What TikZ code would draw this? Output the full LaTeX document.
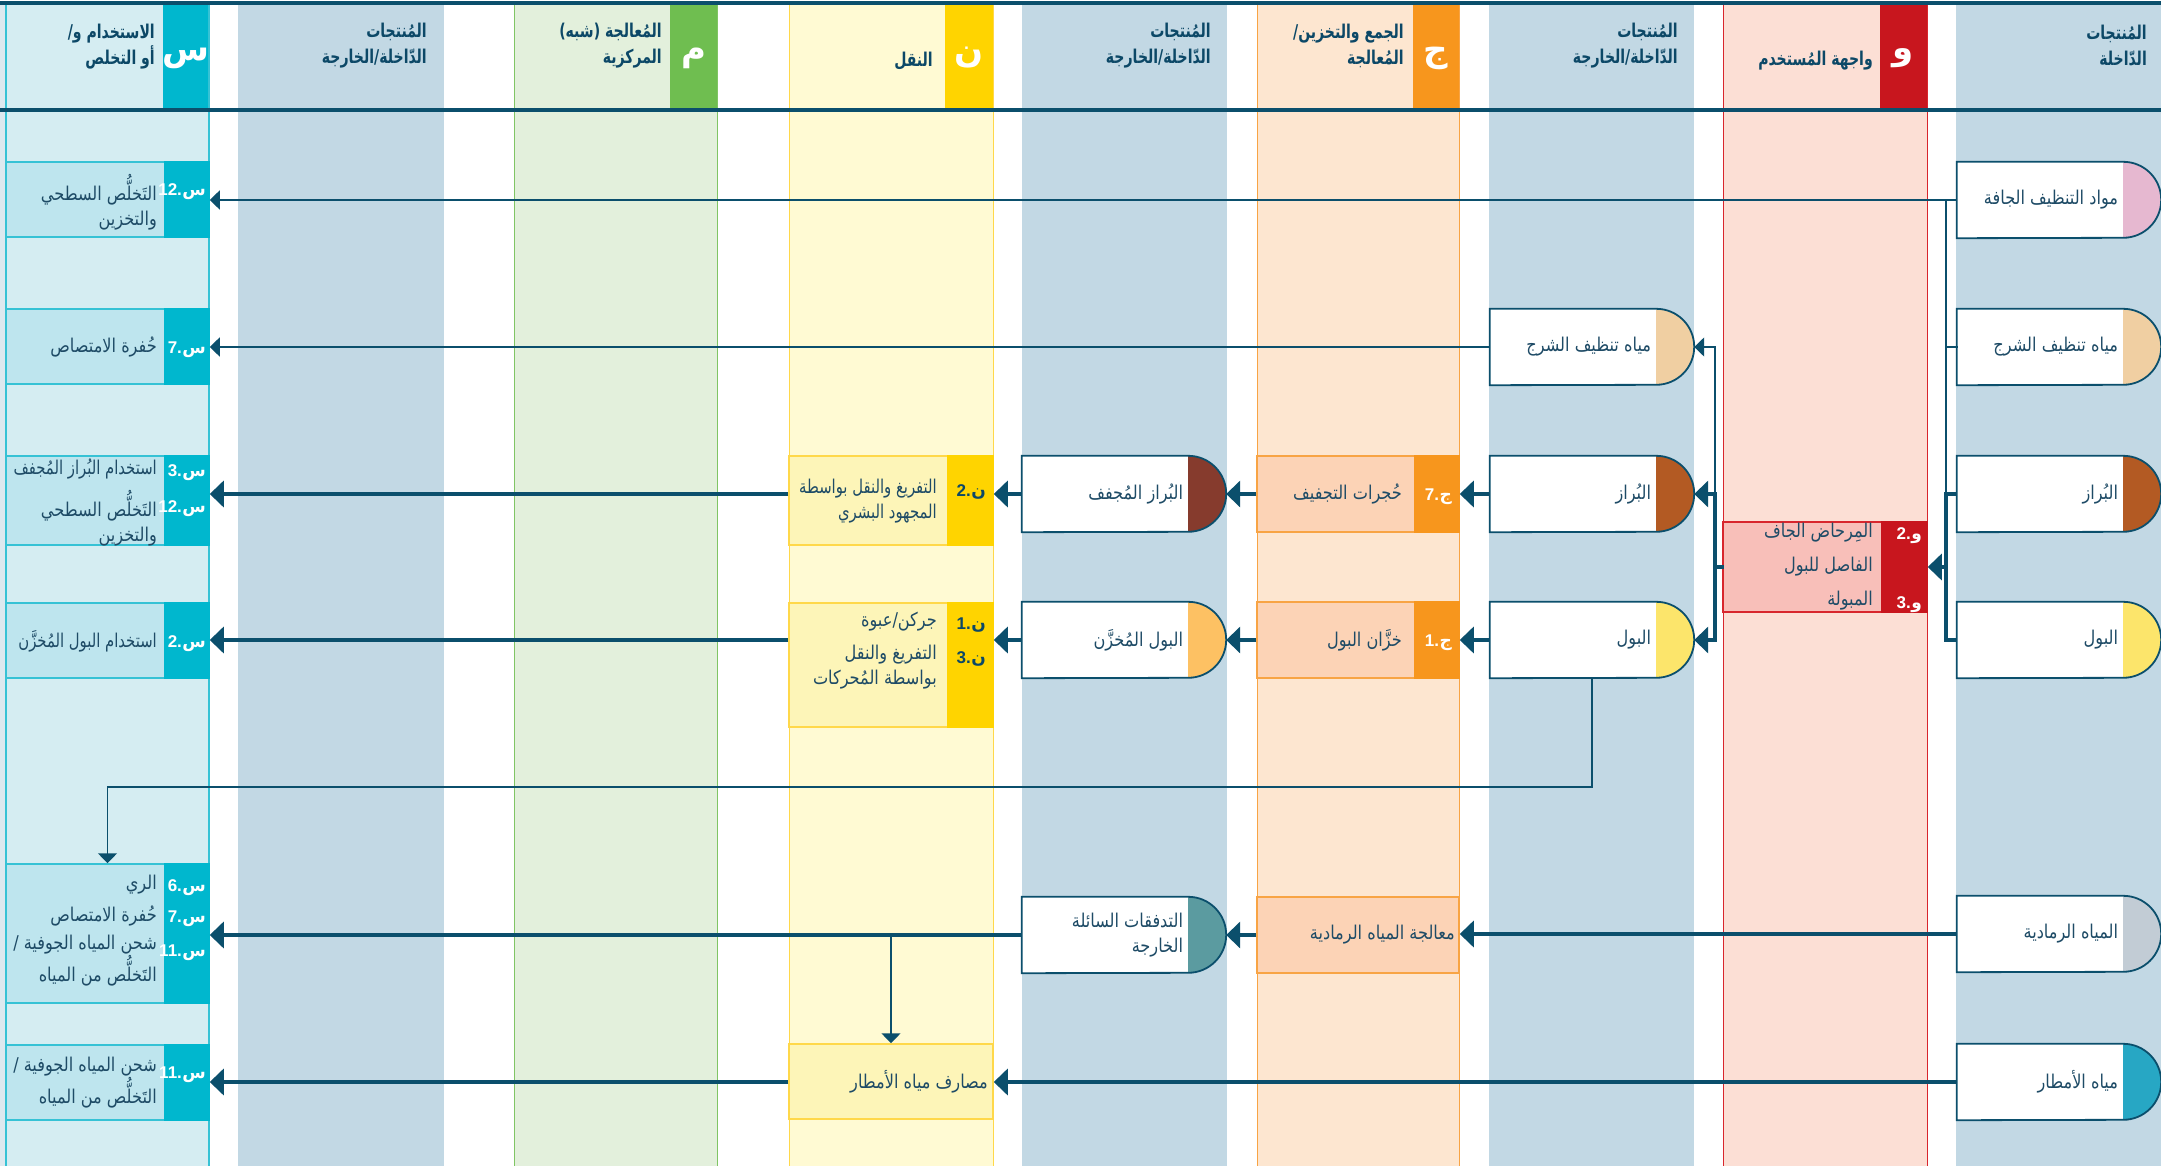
\documentclass[tikz,border=0pt]{standalone}
\usepackage{fontspec}
\setmainfont{Liberation Sans}
\newfontfamily\ar[Script=Arabic]{DejaVu Sans}
\newfontfamily\arn[Script=Arabic,FakeStretch=0.85]{DejaVu Sans}
\newfontfamily\arc[Script=Arabic,FakeStretch=0.78]{DejaVu Sans}
\newfontfamily\arh[Script=Arabic,FakeStretch=0.74]{DejaVu Sans}
\TeXXeTstate=1
\usetikzlibrary{arrows.meta,calc}
\definecolor{navy}{HTML}{0B4F6C}
\definecolor{txtc}{HTML}{1E4B66}
\definecolor{headc}{HTML}{0C4867}
\definecolor{pcol}{HTML}{C2D8E4}
\definecolor{edgec}{HTML}{DDE9EF}
\definecolor{sbg}{HTML}{D5EDF2}
\definecolor{sboxc}{HTML}{BEE5EE}
\definecolor{sstrip}{HTML}{00B7CE}
\definecolor{sborder}{HTML}{36C2D5}
\definecolor{mbg}{HTML}{E3F0DC}
\definecolor{mstrip}{HTML}{6FBE50}
\definecolor{mborder}{HTML}{80C564}
\definecolor{tbg}{HTML}{FFFAD3}
\definecolor{tboxc}{HTML}{FDF5B8}
\definecolor{tstrip}{HTML}{FFD400}
\definecolor{tborder}{HTML}{FFD84A}
\definecolor{cbg}{HTML}{FDE6D0}
\definecolor{cboxc}{HTML}{FCD3B6}
\definecolor{cstrip}{HTML}{F7961D}
\definecolor{cborder}{HTML}{F8A444}
\definecolor{ubg}{HTML}{FCDFD5}
\definecolor{uboxc}{HTML}{F8BFB9}
\definecolor{ustrip}{HTML}{C8161E}
\definecolor{uborder}{HTML}{D8262D}
\definecolor{dpink}{HTML}{E6B8D0}
\definecolor{dtan}{HTML}{F0CFA2}
\definecolor{dbrown}{HTML}{B35A23}
\definecolor{dyellow}{HTML}{FCE56B}
\definecolor{dgrey}{HTML}{C2CCD5}
\definecolor{dteal}{HTML}{27A7C4}
\definecolor{ddbrown}{HTML}{863B2D}
\definecolor{dorange}{HTML}{FDC163}
\definecolor{deffl}{HTML}{5B9BA0}
\newcommand\AR[1]{\beginR#1\endR}
\tikzset{
  txt/.style={font=\arn\fontsize{19}{25}\selectfont, text=txtc, inner sep=0pt, align=right, anchor=east},
  txtc/.style={txt, font=\arc\fontsize{19}{25}\selectfont},
  hdr/.style={font=\arh\bfseries\fontsize{19}{26}\selectfont, text=headc, inner sep=0pt, align=right, anchor=east},
  lbla/.style={font=\ar\bfseries\fontsize{17}{20}\selectfont, inner sep=0pt, anchor=base east},
  lbln/.style={font=\bfseries\fontsize{17}{20}\selectfont, inner sep=0pt, anchor=base east},
  bigl/.style={font=\ar\bfseries\fontsize{34}{34}\selectfont, text=white, inner sep=0pt},
  flw/.style={draw=navy, line width=3.5pt, -{Triangle[length=14pt,width=26pt]}},
  tflw/.style={draw=navy, line width=1.5pt, -{Triangle[length=10pt,width=19pt]}},
  sg/.style={draw=navy, line width=3.5pt, line cap=rect},
  tsg/.style={draw=navy, line width=1.5pt, line cap=rect},
  sbox/.style={draw=sborder, fill=sboxc, line width=1.5pt, inner sep=0pt, minimum width=203pt},
  tbox/.style={draw=tborder, fill=tboxc, line width=1.5pt, inner sep=0pt, minimum width=204pt},
  cbox/.style={draw=cborder, fill=cboxc, line width=1.5pt, inner sep=0pt, minimum width=202pt, minimum height=76pt},
  ubox/.style={draw=uborder, fill=uboxc, line width=1.5pt, inner sep=0pt, minimum width=204pt, minimum height=90pt},
  dbox/.style={draw=none, inner sep=0pt, minimum width=204pt, minimum height=76pt},
  dline/.style={draw=navy, line width=1.8pt},
}
% label: name, x, y, digits, letter, colour
\newcommand\lab[6]{%
  \node[lbla, text=#6] (#1) at (#2,{#3-6}) {#5};
  \node[lbln, text=#6] (#1n) at (#1.base west) {#4.};
}
\newcommand\dnode[5]{%
  \node[dbox] (#1) at (#2,#3) {};
  \fill[white] (#1.north west) -- ($(#1.north east)+(-38,0)$) arc[start angle=90,end angle=-90,radius=38pt] -- (#1.south west) -- cycle;
  \fill[#4] ($(#1.north east)+(-38,0)$) arc[start angle=90,end angle=-90,radius=38pt] -- cycle;
  \draw[dline] (#1.north west) -- ($(#1.north east)+(-38,0)$) arc[start angle=90,end angle=-90,radius=38pt] -- (#1.south west) -- cycle;
  \node[txt] (#1t) at ($(#1.east)+(-43,0)$) {#5};
}
\begin{document}
\begin{tikzpicture}[x=1pt,y=1pt]
\useasboundingbox (0,0) rectangle (2161,-1166);
\fill[white] (0,0) rectangle (2161,-1166);
% columns
\fill[edgec] (0,-5) rectangle (6,-1166);
\fill[sbg] (6,-5) rectangle (209,-1166);
\fill[pcol] (238,-5) rectangle (444,-1166);
\fill[mbg] (514,-5) rectangle (717,-1166);
\fill[tbg] (789,-5) rectangle (993,-1166);
\fill[pcol] (1022,-5) rectangle (1227,-1166);
\fill[cbg] (1257,-5) rectangle (1459,-1166);
\fill[pcol] (1489,-5) rectangle (1694,-1166);
\fill[ubg] (1723,-5) rectangle (1927,-1166);
\fill[pcol] (1956,-5) rectangle (2161,-1166);
% header strips
\fill[sstrip] (163,-5) rectangle (209,-108);
\fill[mstrip] (670,-5) rectangle (717,-108);
\fill[tstrip] (945,-5) rectangle (993,-108);
\fill[cstrip] (1413,-5) rectangle (1459,-108);
\fill[ustrip] (1880,-5) rectangle (1927,-108);
% column borders
\draw[sborder, line width=1.5pt] (6,-5) -- (6,-1166) (209,-5) -- (209,-1166);
\draw[mborder, line width=1pt] (514,-5) -- (514,-1166) (717,-5) -- (717,-1166);
\draw[tborder, line width=1pt] (789,-5) -- (789,-1166) (993,-5) -- (993,-1166);
\draw[cborder, line width=1pt] (1257,-5) -- (1257,-1166) (1459,-5) -- (1459,-1166);
\draw[uborder, line width=1pt] (1723,-5) -- (1723,-1166) (1927,-5) -- (1927,-1166);
% header rules
\fill[navy] (0,-1) rectangle (2161,-5);
\fill[navy] (0,-108) rectangle (2161,-112);
% header letters
\node[bigl] (hS) at (186,-58) {س};
\node[bigl] (hM) at (693.5,-58) {م};
\node[bigl] (hT) at (969,-58) {ن};
\node[bigl] (hC) at (1436,-58) {ج};
\node[bigl] (hU) at (1903.5,-58) {و};
% header texts
\node[hdr] (hSt) at (155,-47) {\AR{الاستخدام و/}\\\AR{أو التخلص}};
\node[hdr] (hP1) at (427,-46) {\AR{المُنتجات}\\\AR{الدّاخلة/الخارجة}};
\node[hdr] (hMt) at (662,-46) {\AR{المُعالجة (شبه)}\\\AR{المركزية}};
\node[hdr] (hTt) at (933,-61) {\AR{النقل}};
\node[hdr] (hP2) at (1211,-46) {\AR{المُنتجات}\\\AR{الدّاخلة/الخارجة}};
\node[hdr] (hCt) at (1404,-46) {\AR{الجمع والتخزين/}\\\AR{المُعالجة}};
\node[hdr] (hP3) at (1678,-46) {\AR{المُنتجات}\\\AR{الدّاخلة/الخارجة}};
\node[hdr] (hUt) at (1873,-61) {\AR{واجهة المُستخدم}};
\node[hdr] (hP4) at (2147,-46) {\AR{المُنتجات}\\\AR{الدّاخلة}};

% ---- S column ----
\node[sbox, minimum height=75pt] (s12a) at (107.5,-199.5) {};
\fill[sstrip] ($(s12a.north east)+(-46,0)$) rectangle (s12a.south east);
\lab{s12aL}{206}{-190}{12}{س}{white}
\node[txt] (s12aT) at (157,-202) {\AR{التَخلُّص السطحي}\\\AR{والتخزين}};

\node[sbox, minimum height=75pt] (s7) at (107.5,-346.5) {};
\fill[sstrip] ($(s7.north east)+(-46,0)$) rectangle (s7.south east);
\lab{s7L}{206}{-347}{7}{س}{white}
\node[txt] (s7T) at (157,-347) {\AR{حُفرة الامتصاص}};

\node[sbox, minimum height=89pt] (s312) at (107.5,-500.5) {};
\fill[sstrip] ($(s312.north east)+(-46,0)$) rectangle (s312.south east);
\lab{s312L1}{206}{-470}{3}{س}{white}
\lab{s312L2}{206}{-506}{12}{س}{white}
\node[txtc] (s312T1) at (157,-469) {\AR{استخدام البُراز المُجفف}};
\node[txt] (s312T2) at (157,-518) {\AR{التَخلُّص السطحي}\\\AR{والتخزين}};

\node[sbox, minimum height=75pt] (s2) at (107.5,-640.5) {};
\fill[sstrip] ($(s2.north east)+(-46,0)$) rectangle (s2.south east);
\lab{s2L}{206}{-641}{2}{س}{white}
\node[txtc] (s2T) at (157,-641) {\AR{استخدام البول المُخزَّن}};

\node[sbox, minimum height=139pt] (s6711) at (107.5,-933.5) {};
\fill[sstrip] ($(s6711.north east)+(-46,0)$) rectangle (s6711.south east);
\lab{s6711L1}{206}{-885}{6}{س}{white}
\lab{s6711L2}{206}{-916}{7}{س}{white}
\lab{s6711L3}{206}{-950}{11}{س}{white}
\node[txt] (s6711T1) at (157,-885) {\AR{الري}};
\node[txt] (s6711T2) at (157,-916) {\AR{حُفرة الامتصاص}};
\node[txt] (s6711T3) at (157,-961) {\AR{شحن المياه الجوفية /}\\\AR{التَخلُّص من المياه}};

\node[sbox, minimum height=75pt] (s11) at (107.5,-1082.5) {};
\fill[sstrip] ($(s11.north east)+(-46,0)$) rectangle (s11.south east);
\lab{s11L}{206}{-1072}{11}{س}{white}
\node[txt] (s11T) at (157,-1083) {\AR{شحن المياه الجوفية /}\\\AR{التَخلُّص من المياه}};

% ---- T column ----
\node[tbox, minimum height=89pt] (t2) at (891,-500.5) {};
\fill[tstrip] ($(t2.north east)+(-47,0)$) rectangle (t2.south east);
\lab{t2L}{986}{-490}{2}{ن}{headc}
\node[txtc] (t2T) at (937,-501) {\AR{التفريغ والنقل بواسطة}\\\AR{المجهود البشري}};

\node[tbox, minimum height=124pt] (t13) at (891,-665) {};
\fill[tstrip] ($(t13.north east)+(-47,0)$) rectangle (t13.south east);
\lab{t13L1}{986}{-623}{1}{ن}{headc}
\lab{t13L2}{986}{-657}{3}{ن}{headc}
\node[txt] (t13T1) at (937,-622) {\AR{جركن/عبوة}};
\node[txt] (t13T2) at (937,-667) {\AR{التفريغ والنقل}\\\AR{بواسطة المُحركات}};

\node[tbox, minimum height=75pt] (tr) at (891,-1081.5) {};
\node[txt] (trT) at (988,-1082) {\AR{مصارف مياه الأمطار}};

% ---- C column ----
\node[cbox] (c7) at (1358,-494) {};
\fill[cstrip] ($(c7.north east)+(-46,0)$) rectangle (c7.south east);
\lab{c7L}{1452}{-494}{7}{ج}{white}
\node[txt] (c7T) at (1402,-494) {\AR{حُجرات التجفيف}};

\node[cbox] (c1) at (1358,-640) {};
\fill[cstrip] ($(c1.north east)+(-46,0)$) rectangle (c1.south east);
\lab{c1L}{1452}{-640}{1}{ج}{white}
\node[txt] (c1T) at (1402,-640) {\AR{خزَّان البول}};

\node[cbox] (cg) at (1358,-935) {};
\node[txt] (cgT) at (1455,-935) {\AR{معالجة المياه الرمادية}};

% ---- U column ----
\node[ubox] (u) at (1825,-567) {};
\fill[ustrip] ($(u.north east)+(-47,0)$) rectangle (u.south east);
\lab{uL1}{1922}{-533}{2}{و}{white}
\lab{uL2}{1922}{-602}{3}{و}{white}
\node[txt] (uT1) at (1873,-533) {\AR{المِرحاض الجاف}};
\node[txt] (uT2) at (1873,-567) {\AR{الفاصل للبول}};
\node[txt] (uT3) at (1873,-601) {\AR{المبولة}};

% ---- product nodes ----
\dnode{p2a}{1124}{-494}{ddbrown}{\AR{البُراز المُجفف}}
\dnode{p2b}{1124}{-640}{dorange}{\AR{البول المُخزَّن}}
\dnode{p2c}{1124}{-935}{deffl}{\AR{التدفقات السائلة}\\\AR{الخارجة}}
\dnode{p3a}{1592}{-347}{dtan}{\AR{مياه تنظيف الشرج}}
\dnode{p3b}{1592}{-494}{dbrown}{\AR{البُراز}}
\dnode{p3c}{1592}{-640}{dyellow}{\AR{البول}}
\dnode{in1}{2059}{-200}{dpink}{\AR{مواد التنظيف الجافة}}
\dnode{in2}{2059}{-347}{dtan}{\AR{مياه تنظيف الشرج}}
\dnode{in3}{2059}{-494}{dbrown}{\AR{البُراز}}
\dnode{in4}{2059}{-640}{dyellow}{\AR{البول}}
\dnode{in5}{2059}{-934}{dgrey}{\AR{المياه الرمادية}}
\dnode{in6}{2059}{-1082}{dteal}{\AR{مياه الأمطار}}

% ---- bus coordinates ----
\coordinate (rb1) at (1946,-200);
\coordinate (rb2) at (1946,-347);
\coordinate (rb3) at (1946,-494);
\coordinate (rb4) at (1946,-640);
\coordinate (rbu) at (1946,-567);
\coordinate (lb2) at (1715,-347);
\coordinate (lb3) at (1715,-494);
\coordinate (lb4) at (1715,-640);
\coordinate (lbu) at (1715,-567);
\coordinate (dk) at (107.5,-787);

% ---- connectors ----
\draw[tflw] (in1.west) -- (s12a.east |- in1.west);
\draw[tsg] (in2.west) -- (rb2);
\draw[tsg] (rb1) -- (rb3);
\draw[sg, line cap=butt] (in3.west) -- (rb3) -- (rb4) -- (in4.west);
\draw[flw] (rbu) -- (u.east);

\draw[sg] (u.west) -- (lbu);
\draw[tsg] (lb2) -- (lb3);
\draw[sg] (lb3) -- (lb4);
\draw[tflw] (lb2) -- (p3a.east);
\draw[flw] (lb3) -- (p3b.east);
\draw[flw] (lb4) -- (p3c.east);

\draw[tflw] (p3a.west) -- (s7.east |- p3a.west);

\draw[flw] (p3b.west) -- (c7.east);
\draw[flw] (c7.west) -- (p2a.east);
\draw[flw] (p2a.west) -- (t2.east |- p2a.west);
\draw[flw] (t2.west |- p2a.west) -- (s312.east |- p2a.west);

\draw[flw] (p3c.west) -- (c1.east);
\draw[flw] (c1.west) -- (p2b.east);
\draw[flw] (p2b.west) -- (t13.east |- p2b.west);
\draw[flw] (t13.west |- p2b.west) -- (s2.east |- p2b.west);

\draw[tflw] (p3c.south) |- (dk) -- (s6711.north);

\draw[flw] (in5.west) -- (cg.east |- in5.west);
\draw[flw] (cg.west) -- (p2c.east);
\draw[flw] (p2c.west) -- (s6711.east |- p2c.west);
\draw[tflw] (tr.north |- p2c.west) -- (tr.north);

\draw[flw] (in6.west) -- (tr.east |- in6.west);
\draw[flw] (tr.west |- in6.west) -- (s11.east |- in6.west);
\end{tikzpicture}
\end{document}
